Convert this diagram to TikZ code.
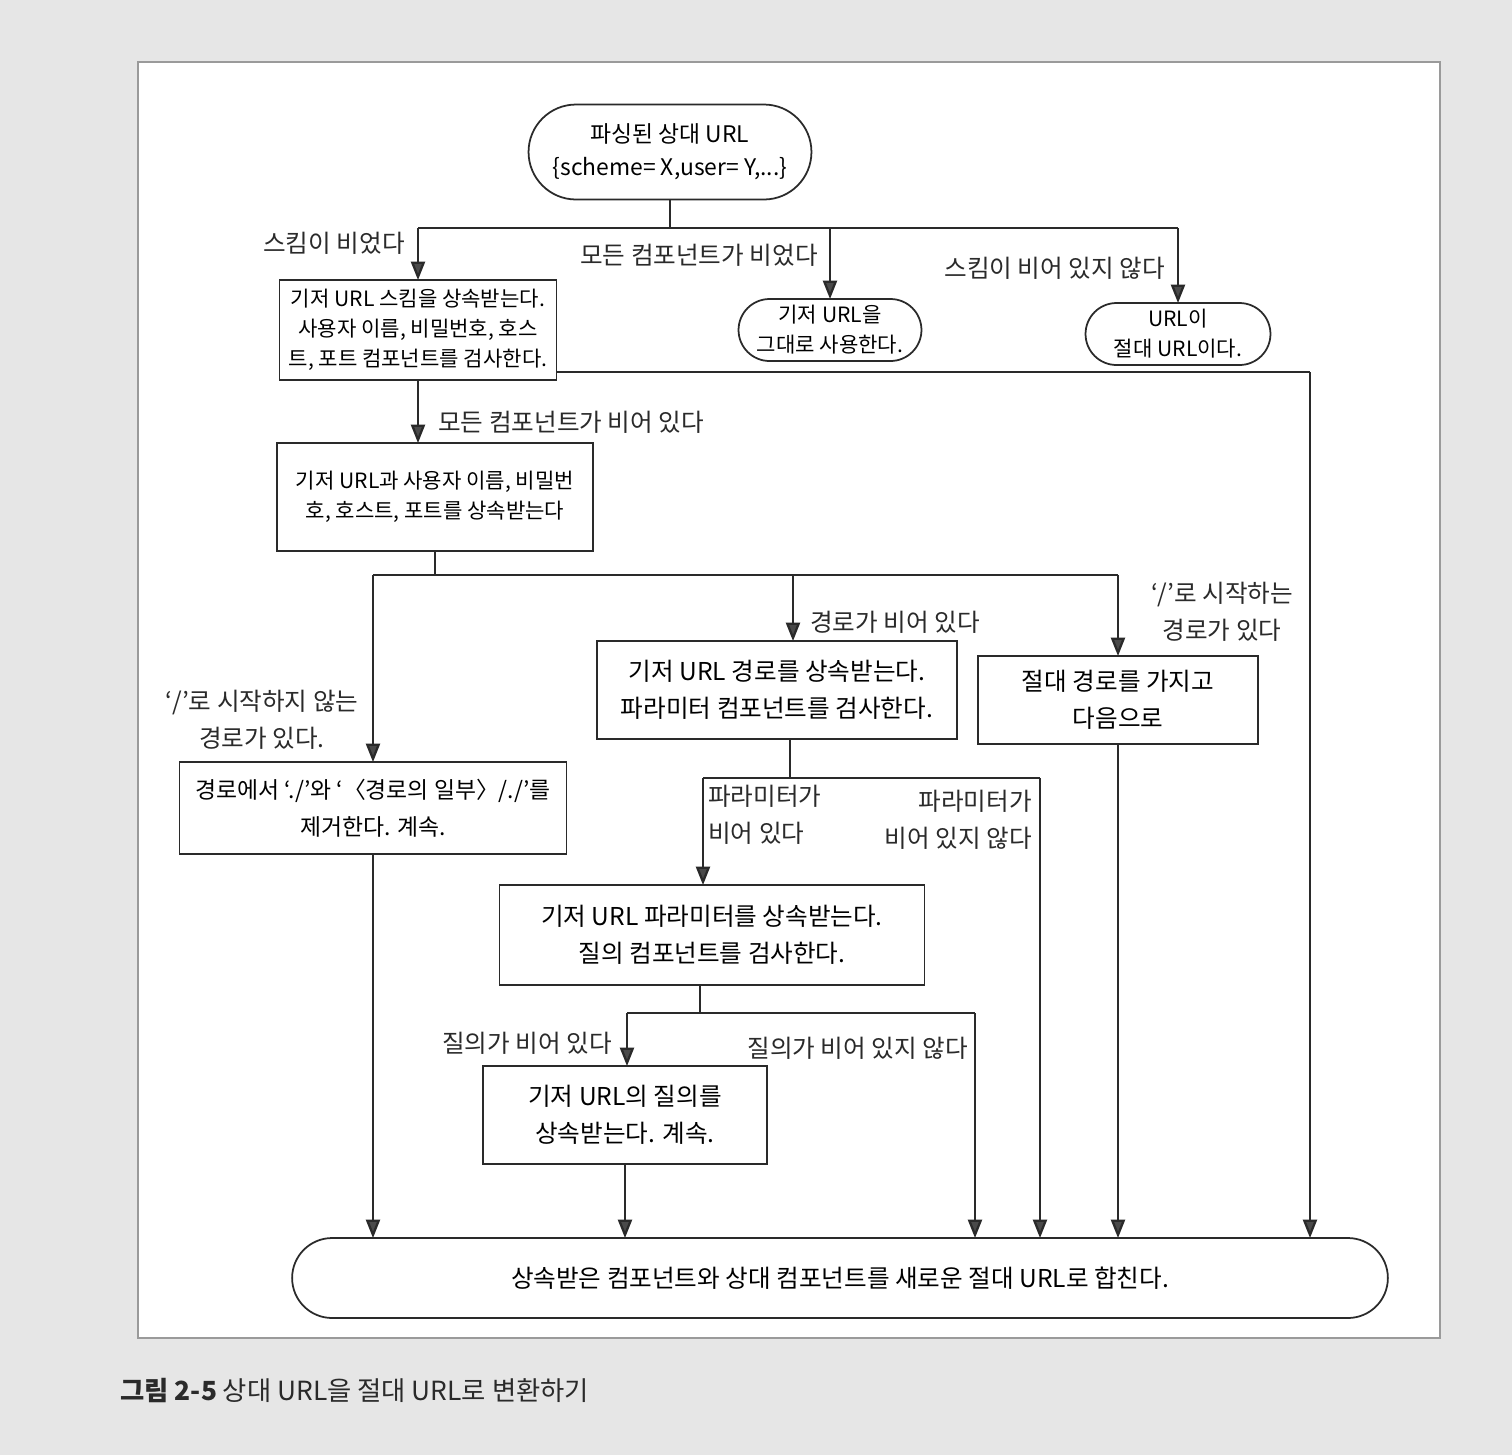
\documentclass[tikz,border=0pt]{standalone}
\usepackage{fontspec}
\setmainfont{Noto Sans CJK KR}
\usetikzlibrary{arrows.meta,shapes.misc}
\definecolor{ink}{HTML}{2A2A2A}
\definecolor{tipgray}{HTML}{4A4A4A}
\definecolor{pagegray}{HTML}{E6E6E6}
\definecolor{framegray}{HTML}{9A9A9A}
\begin{document}
\begin{tikzpicture}[x=0.02cm,y=-0.02cm,
  line/.style={draw=ink,line width=1.3pt},
  arr/.style={line,-{Triangle[length=10.5pt,width=8pt,fill=tipgray]}},
  box/.style={rectangle,draw=ink,line width=1pt,fill=white,align=center,inner sep=2pt,outer sep=0pt,font=\fontsize{14pt}{21pt}\selectfont},
  smallbox/.style={box,font=\fontsize{12pt}{17pt}\selectfont},
  pill/.style={rounded rectangle,draw=ink,line width=1pt,fill=white,align=center,inner sep=2pt,outer sep=0pt,font=\fontsize{12pt}{17pt}\selectfont},
  lbl/.style={align=center,inner sep=0pt,text=ink,font=\fontsize{14pt}{21pt}\selectfont},
]
\useasboundingbox (0,0) rectangle (1512,1455);
\fill[pagegray] (0,0) rectangle (1512,1455);
\draw[framegray,line width=1pt,fill=white] (138,62) rectangle (1440,1338);

% nodes
\node[pill,font=\fontsize{13pt}{19pt}\selectfont,minimum width=5.8cm,minimum height=1.9cm] (start) at (670,152) {파싱된 상대 URL\\\{scheme= X,user= Y,...\}};
\node[smallbox,minimum width=5.54cm,minimum height=2.0cm] (box1) at (418,330) {기저 URL 스킴을 상속받는다.\\사용자 이름, 비밀번호, 호스\\트, 포트 컴포넌트를 검사한다.};
\node[pill,minimum width=3.8cm,minimum height=1.24cm] (usebase) at (830,330) {기저 URL을\\그대로 사용한다.};
\node[pill,minimum width=3.84cm,minimum height=1.24cm] (absurl) at (1178,334) {URL이\\절대 URL이다.};
\node[smallbox,minimum width=6.32cm,minimum height=2.16cm] (box2) at (435,497) {기저 URL과 사용자 이름, 비밀번\\호, 호스트, 포트를 상속받는다};
\node[box,minimum width=7.2cm,minimum height=1.96cm] (box3) at (777,690) {기저 URL 경로를 상속받는다.\\파라미터 컴포넌트를 검사한다.};
\node[box,minimum width=5.6cm,minimum height=1.76cm] (box4) at (1118,700) {절대 경로를 가지고\\다음으로};
\node[box,font=\fontsize{13pt}{21pt}\selectfont,minimum width=7.74cm,minimum height=1.84cm] (box5) at (373,808) {경로에서 ‘./’와 ‘〈경로의 일부〉/./’를\\제거한다. 계속.};
\node[box,minimum width=8.5cm,minimum height=2.0cm] (box6) at (712,935) {기저 URL 파라미터를 상속받는다.\\질의 컴포넌트를 검사한다.};
\node[box,minimum width=5.68cm,minimum height=1.96cm] (box7) at (625,1115) {기저 URL의 질의를\\상속받는다. 계속.};
\node[pill,font=\fontsize{14pt}{21pt}\selectfont,minimum width=22.06cm,minimum height=1.6cm] (final) at (840,1278) {상속받은 컴포넌트와 상대 컴포넌트를 새로운 절대 URL로 합친다.};

% bus coordinates
\coordinate (b1) at (670,228);
\coordinate (r1) at (1310,372);
\coordinate (b2) at (435,575);
\coordinate (b2c) at (793,575);
\coordinate (b3) at (790,778);
\coordinate (b3l) at (703,778);
\coordinate (b3r) at (1040,778);
\coordinate (b4) at (700,1013);
\coordinate (b4l) at (627,1013);
\coordinate (b4r) at (975,1013);

% connectors
\draw[line] (start.south) -- (b1);
\draw[line] (box1.north |- b1) -- (absurl.north |- b1);
\draw[arr] (box1.north |- b1) -- (box1.north);
\draw[arr] (usebase.north |- b1) -- (usebase.north);
\draw[arr] (absurl.north |- b1) -- (absurl.north);
\draw[line] (box1.east |- r1) -- (r1);
\draw[arr] (r1) -- (final.north -| r1);
\draw[arr] (box1.south) -- (box1.south |- box2.north);
\draw[line] (box2.south) -- (b2);
\draw[line] (box5.north |- b2) -- (box4.north |- b2);
\draw[arr] (box5.north |- b2) -- (box5.north);
\draw[arr] (b2c) -- (b2c |- box3.north);
\draw[arr] (box4.north |- b2) -- (box4.north);
\draw[line] (b3 |- box3.south) -- (b3);
\draw[line] (b3l) -- (b3r);
\draw[arr] (b3l) -- (b3l |- box6.north);
\draw[arr] (b3r) -- (b3r |- final.north);
\draw[line] (b4 |- box6.south) -- (b4);
\draw[line] (b4l) -- (b4r);
\draw[arr] (b4l) -- (b4l |- box7.north);
\draw[arr] (b4r) -- (b4r |- final.north);
\draw[arr] (box5.south) -- (box5.south |- final.north);
\draw[arr] (box7.south) -- (box7.south |- final.north);
\draw[arr] (box4.south) -- (box4.south |- final.north);

% labels
\node[lbl,anchor=east] (l1) at (405,243) {스킴이 비었다};
\node[lbl,anchor=east] (l2) at (818,255) {모든 컴포넌트가 비었다};
\node[lbl,anchor=east] (l3) at (1165,268) {스킴이 비어 있지 않다};
\node[lbl,anchor=west] (l4) at (438,422) {모든 컴포넌트가 비어 있다};
\node[lbl,anchor=west] (l5) at (810,622) {경로가 비어 있다};
\node[lbl] (l6) at (1222,612) {‘/’로 시작하는\\경로가 있다};
\node[lbl] (l7) at (262,720) {‘/’로 시작하지 않는\\경로가 있다.};
\node[lbl,align=left,anchor=west] (l8) at (708,815) {파라미터가\\비어 있다};
\node[lbl,align=right,anchor=east] (l9) at (1032,820) {파라미터가\\비어 있지 않다};
\node[lbl,anchor=east] (l10) at (612,1043) {질의가 비어 있다};
\node[lbl,anchor=east] (l11) at (968,1048) {질의가 비어 있지 않다};

% caption
\node[anchor=west,inner sep=0pt,text=ink,font=\fontsize{15pt}{18pt}\selectfont] (cap) at (120,1390) {\textbf{그림 2-5} 상대 URL을 절대 URL로 변환하기};
\end{tikzpicture}
\end{document}
